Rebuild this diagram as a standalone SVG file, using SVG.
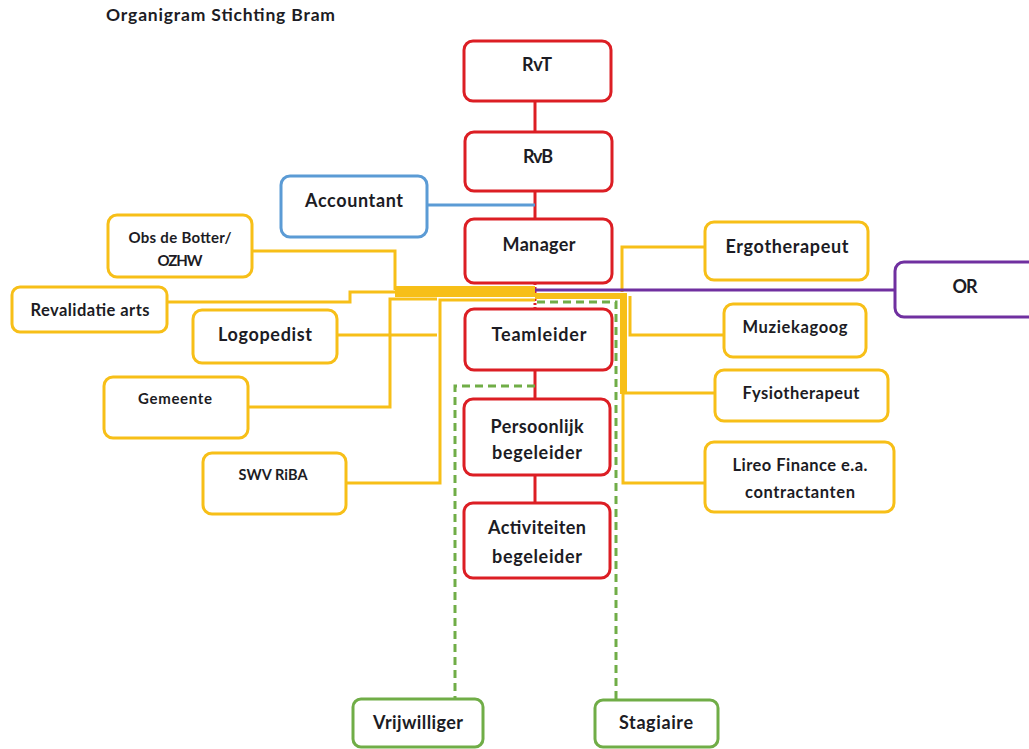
<svg xmlns="http://www.w3.org/2000/svg" width="1029" height="749" viewBox="0 0 1029 749">
<style>
.box{fill:#fff;stroke-width:3}
.red{stroke:#dc1e24}
.yel{stroke:#f7bf18}
.blu{stroke:#5b9bd5}
.pur{stroke:#7030a0}
.grn{stroke:#70ad47}
text{font-family:Lato,"Liberation Sans",sans-serif;font-weight:bold;fill:#1c1c24;text-anchor:middle}
.t18{font-size:18px}
.t165{font-size:16.5px}
.t15{font-size:15px}
.t145{font-size:14.5px}
.ln{fill:none;stroke-width:3}
</style>
<rect width="1029" height="749" fill="#fff"/>
<text x="106" y="21" style="text-anchor:start;font-size:17.5px" textLength="229" lengthAdjust="spacing">Organigram Stichting Bram</text>
<g id="connectors">
  <line x1="535" y1="101" x2="535" y2="132" class="ln red"/>
  <line x1="535" y1="191" x2="535" y2="219" class="ln red"/>
  <line x1="535" y1="283" x2="535" y2="309" class="ln red" stroke-dasharray="2 2"/>
  <line x1="535" y1="370" x2="535" y2="399" class="ln red"/>
  <line x1="535" y1="475" x2="535" y2="503" class="ln red"/>
  <line x1="427" y1="205" x2="535" y2="205" class="ln blu"/>
  <polyline points="252,251 395,251 395,290" class="ln yel"/>
  <polyline points="167,302 350,302 350,292 395,292" class="ln yel"/>
  <polyline points="337,335 437,335" class="ln yel"/>
  <polyline points="248,407 390,407 390,299 437,299" class="ln yel"/>
  <polyline points="346,483 440,483 440,300 535,300" class="ln yel"/>
  <rect x="395" y="286" width="140" height="11" fill="#f7bf18"/>
  <polyline points="705,247 622,247 622,292" class="ln yel"/>
  <rect x="535" y="293" width="92" height="6" fill="#f7bf18"/>
  <rect x="620" y="293" width="7" height="101" fill="#f7bf18"/>
  <polyline points="724,335 630,335 630,296" class="ln yel"/>
  <polyline points="715,393 623,393" class="ln yel"/>
  <polyline points="705,483 623,483 623,393" class="ln yel"/>
  <line x1="535" y1="290" x2="895" y2="290" class="ln pur"/>
  <polyline points="537,302 616,302 616,700" class="ln grn" stroke-dasharray="8 5"/>
  <polyline points="535,386 455,386 455,699" class="ln grn" stroke-dasharray="8 5"/>
</g>
<g id="rvt"><rect x="464" y="41" width="147" height="60" rx="9" class="box red"/><text x="537" y="71" class="t18" textLength="30" lengthAdjust="spacing">RvT</text></g>
<g id="rvb"><rect x="465" y="132" width="147" height="59" rx="9" class="box red"/><text x="538" y="163" class="t18" textLength="30" lengthAdjust="spacing">RvB</text></g>
<g id="accountant"><rect x="281" y="176" width="146" height="61" rx="9" class="box blu"/><text x="354" y="207" class="t18" textLength="98" lengthAdjust="spacing">Accountant</text></g>
<g id="manager"><rect x="465" y="219" width="147" height="64" rx="9" class="box red"/><text x="539" y="251" class="t18" textLength="73" lengthAdjust="spacing">Manager</text></g>
<g id="teamleider"><rect x="465" y="309" width="147" height="61" rx="9" class="box red"/><text x="539" y="341" class="t18" textLength="95" lengthAdjust="spacing">Teamleider</text></g>
<g id="persoonlijk"><rect x="464" y="399" width="146" height="76" rx="9" class="box red"/><text x="537" y="433" class="t18" textLength="93" lengthAdjust="spacing">Persoonlijk</text><text x="537" y="459" class="t18" textLength="90" lengthAdjust="spacing">begeleider</text></g>
<g id="activiteiten"><rect x="464" y="503" width="146" height="75" rx="9" class="box red"/><text x="537" y="534" class="t18" textLength="98" lengthAdjust="spacing">Activiteiten</text><text x="537" y="563" class="t18" textLength="90" lengthAdjust="spacing">begeleider</text></g>
<g id="obs"><rect x="108" y="215" width="144" height="62" rx="9" class="box yel"/><text x="180" y="243" class="t15" textLength="103" lengthAdjust="spacing">Obs de Botter/</text><text x="180" y="266" class="t15" textLength="45" lengthAdjust="spacing">OZHW</text></g>
<g id="revalidatie"><rect x="12" y="287" width="155" height="45" rx="8" class="box yel"/><text x="90" y="316" class="t165" textLength="119" lengthAdjust="spacing">Revalidatie arts</text></g>
<g id="logopedist"><rect x="193" y="310" width="144" height="53" rx="9" class="box yel"/><text x="265" y="341" class="t18" textLength="94" lengthAdjust="spacing">Logopedist</text></g>
<g id="gemeente"><rect x="104" y="377" width="144" height="61" rx="9" class="box yel"/><text x="175" y="404" class="t15" textLength="74" lengthAdjust="spacing">Gemeente</text></g>
<g id="swv"><rect x="203" y="453" width="143" height="61" rx="9" class="box yel"/><text x="273" y="480" class="t145" textLength="69" lengthAdjust="spacing">SWV RiBA</text></g>
<g id="ergo"><rect x="705" y="222" width="163" height="58" rx="9" class="box yel"/><text x="787" y="253" class="t18" textLength="123" lengthAdjust="spacing">Ergotherapeut</text></g>
<g id="or"><rect x="895" y="262" width="145" height="55" rx="9" class="box pur"/><text x="965" y="293" class="t18" textLength="25" lengthAdjust="spacing">OR</text></g>
<g id="muziek"><rect x="724" y="304" width="142" height="53" rx="9" class="box yel"/><text x="795" y="333" class="t165" textLength="105" lengthAdjust="spacing">Muziekagoog</text></g>
<g id="fysio"><rect x="715" y="370" width="173" height="51" rx="9" class="box yel"/><text x="801" y="399" class="t165" textLength="117" lengthAdjust="spacing">Fysiotherapeut</text></g>
<g id="lireo"><rect x="705" y="442" width="189" height="70" rx="9" class="box yel"/><text x="800" y="471" class="t165" textLength="135" lengthAdjust="spacing">Lireo Finance e.a.</text><text x="800" y="498" class="t165" textLength="110" lengthAdjust="spacing">contractanten</text></g>
<g id="vrijwilliger"><rect x="353" y="699" width="130" height="48" rx="8" class="box grn"/><text x="418" y="729" class="t18" textLength="90" lengthAdjust="spacing">Vrijwilliger</text></g>
<g id="stagiaire"><rect x="595" y="700" width="123" height="47" rx="8" class="box grn"/><text x="656" y="729" class="t18" textLength="74" lengthAdjust="spacing">Stagiaire</text></g>
</svg>
